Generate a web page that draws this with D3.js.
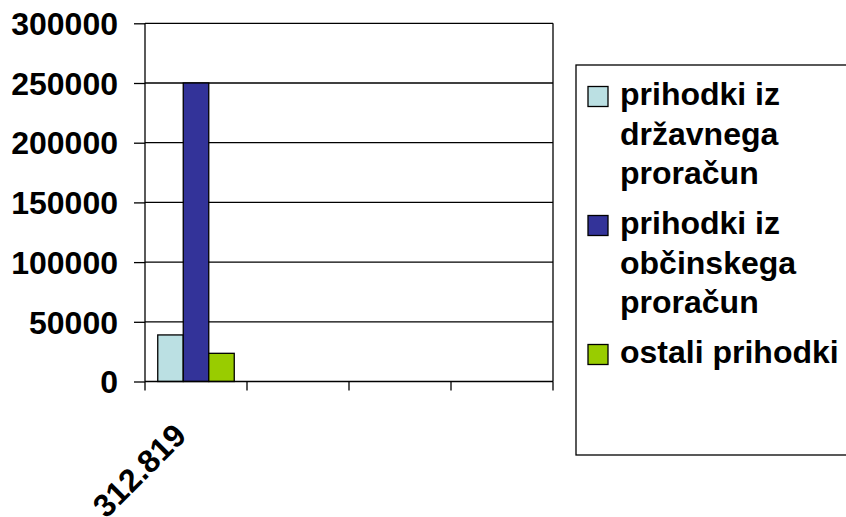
<!DOCTYPE html>
<html>
<head>
<meta charset="utf-8">
<script src="https://cdn.jsdelivr.net/npm/d3@7"></script>
<style>
  body { margin: 0; background: #fff; }
  text { font-family: "Liberation Sans", Arial, sans-serif; font-weight: bold; fill: #000; }
</style>
</head>
<body>
<div id="chart"></div>
<script>
// data
var categories = ["c1", "c2", "c3", "c4"];
var categoryLabels = ["312.819", "", "", ""];
var seriesNames = ["prihodki iz državnega proračun", "prihodki iz občinskega proračun", "ostali prihodki"];
var legendLines = [["prihodki iz", "državnega", "proračun"], ["prihodki iz", "občinskega", "proračun"], ["ostali prihodki"]];
var drzavni = [39000, null, null, null];
var obcinski = [250000, null, null, null];
var ostali = [23600, null, null, null];
var yTicks = [0, 50000, 100000, 150000, 200000, 250000, 300000];
var colors = ["#bbe0e3", "#333399", "#99cc00"];

var W = 846, H = 517;
var margin = { top: 23.3, left: 145, right: 293, bottom: 135.5 },
width = W - margin.left - margin.right,
height = H - margin.top - margin.bottom;

var svgRoot = d3.select("#chart")
.append("svg")
.attr("width", W)
.attr("height", H);

var svg = svgRoot.append("g")
.attr("transform", "translate(" + margin.left + "," + margin.top + ")");

var seriesValues = [drzavni, obcinski, ostali];

// scales
var x0 = d3.scaleBand()
.domain(categories)
.range([0, width])
.padding(0);

var x1 = d3.scaleBand()
.domain(d3.range(seriesNames.length))
.range([0, x0.bandwidth()])
.paddingInner(0)
.paddingOuter(0.5);

var y = d3.scaleLinear()
.domain([0, 300000])
.range([height, 0]);

var color = d3.scaleOrdinal()
.domain(d3.range(seriesNames.length))
.range(colors);

// gridlines
svg.append("g")
.selectAll("line")
.data(yTicks.slice(1))
.enter()
.append("line")
.attr("x1", 0)
.attr("x2", width)
.attr("y1", d => y(d))
.attr("y2", d => y(d))
.attr("stroke", "#000")
.attr("stroke-width", 1.3);

// right border of plot area
svg.append("line")
.attr("x1", width).attr("x2", width)
.attr("y1", 0).attr("y2", height)
.attr("stroke", "#000")
.attr("stroke-width", 1.3);

// bars
var rows = [];
categories.forEach(function (c, i) {
  seriesValues.forEach(function (s, j) {
    if (s[i] != null) rows.push({ cat: c, series: j, value: s[i] });
  });
});

svg.append("g")
.selectAll("rect")
.data(rows)
.enter()
.append("rect")
.attr("x", d => x0(d.cat) + x1(d.series))
.attr("y", d => y(d.value))
.attr("width", x1.bandwidth())
.attr("height", d => height - y(d.value))
.attr("fill", d => color(d.series))
.attr("stroke", "#000")
.attr("stroke-width", 1.3);

// Y axis
var yAxis = svg.append("g")
.call(d3.axisLeft(y).tickValues(yTicks).tickSize(11).tickPadding(16).tickFormat(d3.format("d")));
yAxis.selectAll("path, line").attr("stroke", "#000").attr("stroke-width", 1.3);
yAxis.select(".domain").attr("d", "M0," + height + "V0");
yAxis.selectAll("text")
.style("font-size", "32px")
.attr("dy", "0.35em");

// X axis (ticks between categories, like the original)
var xAxis = svg.append("g")
.attr("transform", "translate(0," + height + ")");
xAxis.append("line")
.attr("x1", 0).attr("x2", width)
.attr("stroke", "#000")
.attr("stroke-width", 1.3);
xAxis.selectAll(".tick")
.data(categories.concat(["end"]))
.enter()
.append("line")
.attr("x1", (d, i) => i < categories.length ? x0(d) : width)
.attr("x2", (d, i) => i < categories.length ? x0(d) : width)
.attr("y1", 0)
.attr("y2", 9)
.attr("stroke", "#000")
.attr("stroke-width", 1.3);
xAxis.selectAll(".lbl")
.data(categories)
.enter()
.append("text")
.attr("transform", d => "translate(" + (x0(d) + x0.bandwidth() / 2 - 8) + ",56)rotate(-45)")
.attr("text-anchor", "end")
.style("font-size", "32px")
.text((d, i) => categoryLabels[i]);

// legend
var legend = svgRoot.append("g");
legend.append("rect")
.attr("x", 576)
.attr("y", 65)
.attr("width", 320)
.attr("height", 390)
.attr("fill", "#fff")
.attr("stroke", "#000")
.attr("stroke-width", 1.3);

var lineH = 39.5, gap = 10.5, yPos = 105;
legendLines.forEach(function (lines, i) {
  legend.append("rect")
  .attr("x", 588)
  .attr("y", yPos - 18.5)
  .attr("width", 20)
  .attr("height", 20)
  .attr("fill", color(i))
  .attr("stroke", "#000")
  .attr("stroke-width", 1.3);
  lines.forEach(function (ln, k) {
    legend.append("text")
    .attr("x", 620)
    .attr("y", yPos + k * lineH)
    .style("font-size", "32px")
    .text(ln);
  });
  yPos += lines.length * lineH + gap;
});
</script>
</body>
</html>
